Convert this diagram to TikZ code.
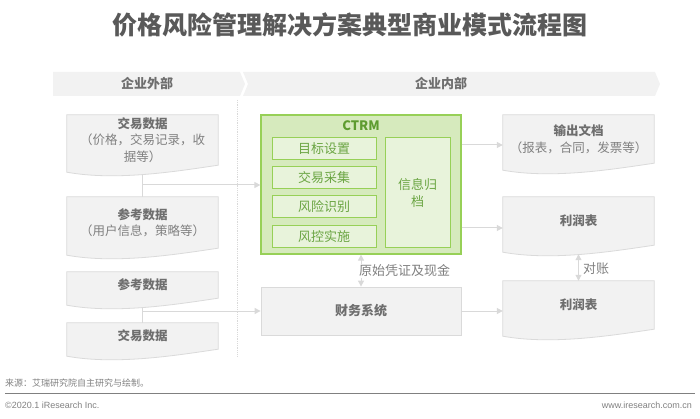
\documentclass[tikz,border=0pt]{standalone}
\usepackage{fontspec}
\setmainfont{Noto Sans CJK SC}
\newfontfamily\latinfont{Liberation Sans}
\usepackage{tikz}
\usetikzlibrary{calc,arrows.meta}

\definecolor{bandgray}{HTML}{F2F2F2}
\definecolor{docgray}{HTML}{F2F2F2}
\definecolor{docedge}{HTML}{DADADA}
\definecolor{txtgray}{HTML}{808080}
\definecolor{headgray}{HTML}{6E6E6E}
\definecolor{titlegray}{HTML}{595959}
\definecolor{ctrmfill}{HTML}{D6EABD}
\definecolor{ctrmedge}{HTML}{97D057}
\definecolor{subfill}{HTML}{E8F3DB}
\definecolor{ctrmtxt}{HTML}{5E9C30}
\definecolor{subtxt}{HTML}{6BA543}
\definecolor{arrgray}{HTML}{D9D9D9}

\pgfdeclarelayer{back}
\pgfdeclarelayer{mid}
\pgfsetlayers{back,mid,main}

% 文档形状（底边为波浪线）
\newcommand{\wavedoc}[1]{%
	\begin{pgfonlayer}{mid}
		\filldraw[docbody] (#1.south east) -- (#1.north east) -- (#1.north west)
		-- ($(#1.south west)+(0,7)$)
		.. controls ($(#1.south west)+(50,16)$) and ($(#1.south east)+(-41,6)$) .. (#1.south east)
		-- cycle;
	\end{pgfonlayer}}

\begin{document}
\begin{tikzpicture}[x=1pt, y=-1pt,
	docbody/.style={fill=docgray, draw=docedge, line width=0.8pt},
	docnode/.style={inner sep=0pt, minimum width=151pt, align=center, text=txtgray,
		font=\fontsize{12.5}{16.5}\selectfont},
	ctrmbox/.style={fill=ctrmfill, draw=ctrmedge, line width=1.2pt, inner sep=0pt},
	subbox/.style={fill=subfill, draw=ctrmedge, line width=1pt, inner sep=0pt, align=center,
		text=subtxt, font=\fontsize{13}{17}\selectfont},
	finbox/.style={fill=docgray, draw=docedge, line width=0.8pt, inner sep=0pt,
		text=headgray, font=\bfseries\fontsize{13}{16}\selectfont},
	bandtext/.style={text=headgray, font=\bfseries\fontsize{13}{16}\selectfont},
	flow/.style={draw=arrgray, line width=1pt},
	arrow/.style={flow, -{Triangle[width=6pt, length=6pt]}},
	dblarrow/.style={flow, {Triangle[width=6pt, length=6pt]}-{Triangle[width=6pt, length=6pt]}},
	sidetext/.style={text=txtgray, font=\fontsize{13}{16}\selectfont, inner sep=1pt}]
	
	\useasboundingbox (0,0) rectangle (700,419);
	
	% --- 1. 标题 ---
	\node[text=titlegray, font=\bfseries\fontsize{25}{30}\selectfont] (title) at (350,25)
	{价格风险管理解决方案典型商业模式流程图};
	
	% --- 2. 顶部分区条 ---
	\fill[bandgray] (53,72) -- (240,72) -- (245,84) -- (240,96) -- (53,96) -- cycle;
	\fill[bandgray] (243,72) -- (655,72) -- (660,84) -- (655,96) -- (243,96) -- (248,84) -- cycle;
	\node[bandtext] (outside) at (147,84) {企业外部};
	\node[bandtext] (inside) at (441,84) {企业内部};
	
	% 分隔虚线
	\draw[arrgray, densely dotted, line width=0.8pt] (237,100) -- (237,357);
	
	% --- 3. 企业外部的数据 ---
	\node[docnode, minimum height=50pt] (trade1) at (142.5,140)
	{\textbf{\color{headgray}交易数据}\\（价格，交易记录，收\\据等）};
	\node[docnode, minimum height=51pt] (ref1) at (142.5,222.5)
	{\textbf{\color{headgray}参考数据}\\（用户信息，策略等）};
	\node[docnode, minimum height=26pt] (ref2) at (142.5,285)
	{\textbf{\color{headgray}参考数据}};
	\node[docnode, minimum height=26pt] (trade2) at (142.5,336)
	{\textbf{\color{headgray}交易数据}};
	
	\wavedoc{trade1}
	\wavedoc{ref1}
	\wavedoc{ref2}
	\wavedoc{trade2}
	
	% --- 4. CTRM 系统 ---
	\node[ctrmbox, minimum width=200pt, minimum height=139pt] (ctrm) at (361,184.5) {};
	\node[text=ctrmtxt, font=\bfseries\fontsize{13}{16}\selectfont] (ctrmname) at (361,126) {CTRM};
	\foreach \y/\name/\txt in {149/goal/目标设置, 178/collect/交易采集,
		207/risk/风险识别, 237/control/风控实施}
	\node[subbox, minimum width=104pt, minimum height=22pt] (\name) at (324,\y) {\txt};
	\node[subbox, minimum width=65pt, minimum height=110pt] (archive) at (417.5,193) {信息归\\档};
	
	% 财务系统
	\node[finbox, minimum width=200pt, minimum height=48pt] (finance) at (361,311) {财务系统};
	
	% --- 5. 企业内部的输出 ---
	\node[docnode, minimum height=48pt] (output) at (578.5,139)
	{\textbf{\color{headgray}输出文档}\\（报表，合同，发票等）};
	\node[docnode, minimum height=48pt] (profit1) at (578.5,221)
	{\textbf{\color{headgray}利润表}};
	\node[docnode, minimum height=48pt] (profit2) at (578.5,305)
	{\textbf{\color{headgray}利润表}};
	
	\wavedoc{output}
	\wavedoc{profit1}
	\wavedoc{profit2}
	
	% --- 6. 连线 ---
	\coordinate (j1) at (143,185);
	\coordinate (j2) at (143,311);
	\coordinate (o1) at (0,145);
	\coordinate (o2) at (0,228);
	
	\begin{pgfonlayer}{back}
		\draw[flow] (trade1.south) -- (ref1.north);
		\draw[flow] (ref2.south) -- (trade2.north);
	\end{pgfonlayer}
	\draw[arrow] (j1) -- (ctrm.west |- j1);
	\draw[arrow] (j2) -- (finance.west |- j2);
	
	\draw[arrow] (ctrm.east |- o1) -- (output.west |- o1);
	\draw[arrow] (ctrm.east |- o2) -- (profit1.west |- o2);
	\draw[arrow] (finance.east) -- (profit2.west |- finance.east);
	
	% 双向箭头及说明
	\draw[dblarrow] (ctrm.south) -- (finance.north);
	\node[sidetext, fill=white, anchor=west] (voucher) at (358,271) {原始凭证及现金};
	\draw[dblarrow] ($(profit1.south)+(0,9)$) -- (profit2.north);
	\node[sidetext, anchor=west] (reconcile) at (582,269) {对账};
	
	% --- 7. 页脚 ---
	\node[anchor=west, text=txtgray, font=\fontsize{9}{11}\selectfont, inner sep=0pt] (source)
	at (5,383) {来源：艾瑞研究院自主研究与绘制。};
	\draw[txtgray, line width=0.8pt] (5,393) -- (695,393);
	\node[anchor=west, text=txtgray, font=\latinfont\fontsize{9}{11}\selectfont, inner sep=0pt] (copy)
	at (5,405) {©2020.1 iResearch Inc.};
	\node[anchor=east, text=txtgray, font=\latinfont\fontsize{9}{11}\selectfont, inner sep=0pt] (site)
	at (692,405) {www.iresearch.com.cn};
	
\end{tikzpicture}
\end{document}
